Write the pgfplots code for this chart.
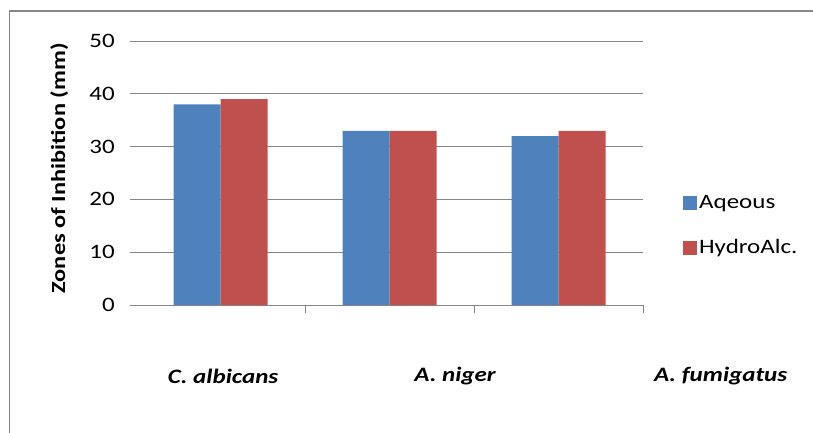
\documentclass[border=0pt]{standalone}
\usepackage{pgfplots}
\pgfplotsset{compat=1.18}
\usepackage{fontspec}
\setmainfont[FakeStretch=1.22]{Carlito}
\definecolor{barblue}{RGB}{79,129,189}
\definecolor{barred}{RGB}{192,80,77}
\definecolor{gridgray}{RGB}{134,134,134}
\newcommand{\chartfont}{\fontsize{20.5pt}{24pt}\selectfont}
\begin{document}
\chartfont
\begin{tikzpicture}[x=1pt,y=1pt]
\useasboundingbox (0,0) rectangle (813,432);
% outer chart frame (cut off at right and bottom)
\draw[gridgray, line width=1.8pt] (9.5,-20) -- (9.5,421) -- (830,421);
\begin{axis}[
	at={(130pt,127pt)}, anchor=south west,
	scale only axis,
	width=513pt, height=264pt,
	ybar=0pt, bar width=47pt,
	xmin=-0.536, xmax=2.5,
	ymin=0, ymax=50,
	ytick={0,10,...,50},
	xtick={0.5,1.5,2.5},
	xticklabels={},
	axis lines*=left,
	x axis line style={gridgray, line width=1pt},
	y axis line style={draw=none},
	ytick style={draw=none},
	xtick style={gridgray, line width=1pt},
	tick align=outside,
	major tick length=8pt,
	ymajorgrids=true,
	grid style={gridgray, line width=1pt},
	/pgf/number format/assume math mode=true,
	yticklabel style={font=\chartfont, inner sep=0pt, xshift=-7pt},
	ylabel={\bfseries Zones of Inhibition (mm)},
	every axis y label/.style={at={(axis description cs:-0.138,0.517)}, rotate=90, anchor=center, font=\fontsize{20pt}{24pt}\selectfont},
	clip=false,
	legend style={draw=none, fill=none, at={(1.072,0.299)}, anchor=west,
		font=\chartfont, row sep=24pt},
	legend cell align=left,
	legend image code/.code={\fill[#1] (0pt,-7pt) rectangle (14pt,7pt);},
]
\addplot[fill=barblue, draw=none] coordinates {(0,38) (1,33) (2,32)};
\addplot[fill=barred, draw=none] coordinates {(0,39) (1,33) (2,33)};
\legend{Aqeous, HydroAlc.}
% category names sit below the axis, spread wider than the bars
\node[font=\chartfont\bfseries\itshape] at (axis cs:0.015,0) [yshift=-71pt] {C. albicans};
\node[font=\chartfont\bfseries\itshape] at (axis cs:1.388,0) [yshift=-71pt] {A. niger};
\node[font=\chartfont\bfseries\itshape] at (axis cs:2.96,0) [yshift=-71pt] {A. fumigatus};
\end{axis}
\end{tikzpicture}
\end{document}
